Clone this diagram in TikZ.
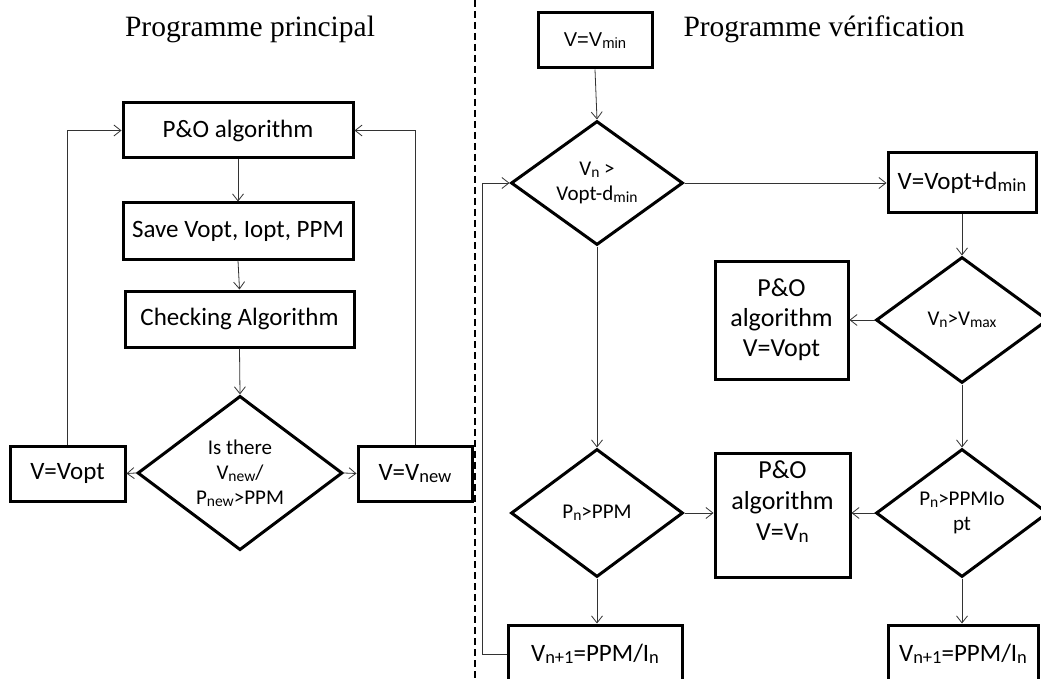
\documentclass[tikz,border=0pt]{standalone}
\usepackage{fontspec}
\usepackage{graphicx}
\setmainfont{Liberation Serif}
\newfontfamily\calfont{Carlito}
\newfontfamily\arifont{Liberation Sans}
\usetikzlibrary{shapes.geometric,arrows.meta}
\newcommand\sbs[1]{\raisebox{-0.08em}{\scalebox{0.74}{#1}}}
\tikzset{
  box/.style={draw, line width=3pt, inner sep=0pt, align=center,
    font=\calfont\fontsize{25}{29}\selectfont},
  tallbox/.style={box, font=\calfont\fontsize{26}{30}\selectfont},
  dia/.style={draw, diamond, line width=3pt, inner sep=0pt, align=center,
    font=\calfont\fontsize{21}{25}\selectfont,
    minimum width=172pt, minimum height=126pt},
  conn/.style={line width=0.8pt, draw=black!80,
    -{Straight Barb[length=7pt,width=11pt,line width=0.8pt]}},
  ttl/.style={font=\fontsize{29.5}{33}\selectfont, inner sep=0pt}
}
\begin{document}
\begin{tikzpicture}[x=1pt,y=-1pt]
\useasboundingbox (0,0) rectangle (1041,679);
\clip (0,0) rectangle (1041,679);
\fill[white] (0,0) rectangle (1041,679);

% separator
\coordinate (sepT) at (475,0);
\coordinate (sepB) at (475,679);
\draw[line width=2pt, dash pattern=on 7pt off 4pt] (sepT) -- (sepB);

% titles
\node[ttl] (t1) at (250,29) {Programme principal};
\node[ttl] (t2) at (824,29) {Programme vérification};

% left program
\node[box, minimum width=230pt, minimum height=55pt] (po) at (238,130.5) {P\&O algorithm};
\node[box, minimum width=230pt, minimum height=56pt] (save) at (238,231) {Save Vopt, Iopt, PPM};
\node[box, minimum width=229pt, minimum height=56pt] (chk) at (239.5,319) {Checking Algorithm};
\node[dia, minimum width=205pt, minimum height=126pt] (dq) at (240,473) {Is there\\V\sbs{new}/\\P\sbs{new}>PPM};
\node[box, minimum width=115pt, minimum height=55pt] (vopt) at (67.5,473.5) {V=Vopt};
\node[box, minimum width=114pt, minimum height=55pt] (vnew) at (415,473.5) {V=V\sbs{new}};

\draw[conn] (po.south) -- (save.north);
\draw[conn] (save.south) -- (chk.north);
\draw[conn] (chk.south) -- (dq.north);
\draw[conn] (dq.west) -- (vopt.east);
\draw[conn] (dq.east) -- (vnew.west);
\draw[conn] (vopt.north) |- (po.west);
\draw[conn] (vnew.north) |- (po.east);

% right program
\node[box, font=\arifont\fontsize{20}{24}\selectfont, minimum width=114pt, minimum height=55pt] (vmin) at (595,40.5) {V=V\sbs{min}};
\node[dia, minimum height=124pt] (d1) at (597,183) {V\sbs{n} >\\Vopt-d\sbs{min}};
\node[box, minimum width=148pt, minimum height=60pt] (vod) at (962,183) {V=Vopt+d\sbs{min}};
\node[dia] (d2) at (962,320) {V\sbs{n}>V\sbs{max}};
\node[tallbox, minimum width=133pt, minimum height=118pt] (po2) at (781.5,320) {P\&O\\algorithm\\V=Vopt};
\node[dia, minimum height=128pt] (d3) at (597,513) {P\sbs{n}>PPM};
\node[box, minimum width=135pt, minimum height=124pt] (po3) at (782.5,515) {};
\node[font=\calfont\fontsize{26}{31}\selectfont, align=center, inner sep=0pt] (po3t) at (782.5,502) {P\&O\\algorithm\\V=V\sbs{n}};
\node[dia, minimum height=128pt] (d4) at (962,513) {P\sbs{n}>PPMIo\\pt};
\node[box, minimum width=174pt, minimum height=58pt] (b1) at (595,654) {V\sbs{n+1}=PPM/I\sbs{n}};
\node[box, minimum width=150pt, minimum height=58pt] (b2) at (963,654) {V\sbs{n+1}=PPM/I\sbs{n}};

\draw[conn] (vmin.south) -- (d1.north);
\draw[conn] (d1.east) -- (vod.west);
\draw[conn] (vod.south) -- (d2.north);
\draw[conn] (d2.west) -- (po2.east);
\draw[conn] (d2.south) -- (d4.north);
\draw[conn] (d1.south) -- (d3.north);
\draw[conn] (d3.east) -- (d3.east -| po3.west);
\draw[conn] (d4.west) -- (d4.west -| po3.east);
\draw[conn] (d3.south) -- (d3.south |- b1.north);
\draw[conn] (d4.south) -- (d4.south |- b2.north);
\draw[conn] (b1.west) -- ++(-24,0) |- (d1.west);
\end{tikzpicture}
\end{document}
